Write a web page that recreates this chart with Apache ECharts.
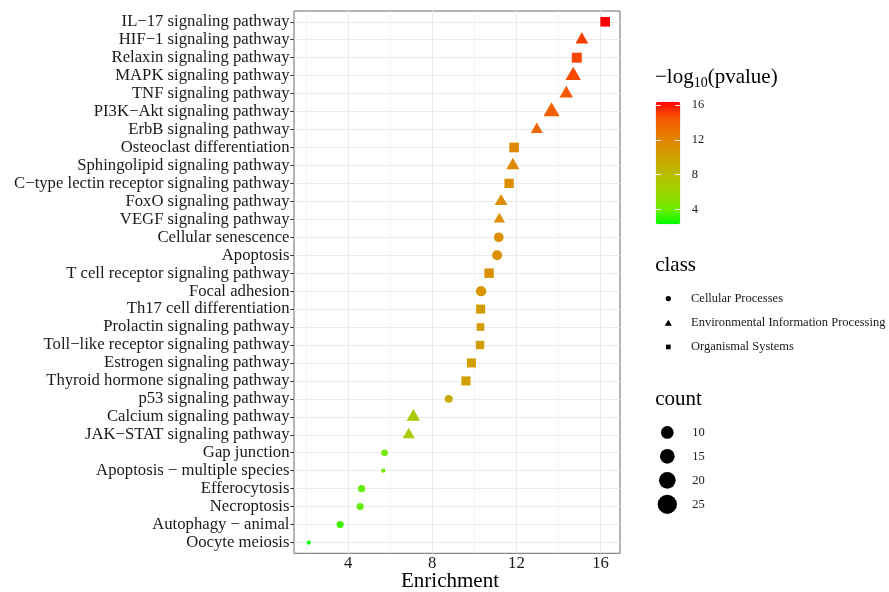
<!DOCTYPE html>
<html><head><meta charset="utf-8">
<script src="https://cdn.jsdelivr.net/npm/echarts@6/dist/echarts.min.js"></script>
<style>html,body{margin:0;padding:0;background:#fff}#c{width:889px;height:592px}</style>
</head><body><div id="c"></div>
<script>
// ---------- data ----------
const pathways = [
  'IL−17 signaling pathway', 'HIF−1 signaling pathway', 'Relaxin signaling pathway',
  'MAPK signaling pathway', 'TNF signaling pathway', 'PI3K−Akt signaling pathway',
  'ErbB signaling pathway', 'Osteoclast differentiation', 'Sphingolipid signaling pathway',
  'C−type lectin receptor signaling pathway', 'FoxO signaling pathway', 'VEGF signaling pathway',
  'Cellular senescence', 'Apoptosis', 'T cell receptor signaling pathway', 'Focal adhesion',
  'Th17 cell differentiation', 'Prolactin signaling pathway', 'Toll−like receptor signaling pathway',
  'Estrogen signaling pathway', 'Thyroid hormone signaling pathway', 'p53 signaling pathway',
  'Calcium signaling pathway', 'JAK−STAT signaling pathway', 'Gap junction',
  'Apoptosis − multiple species', 'Efferocytosis', 'Necroptosis', 'Autophagy − animal', 'Oocyte meiosis'
];
const enrichment = [16.22, 15.11, 14.87, 14.70, 14.37, 13.67, 12.97, 11.89, 11.83, 11.65, 11.27, 11.19,
  11.16, 11.08, 10.70, 10.32, 10.30, 10.29, 10.27, 9.86, 9.60, 8.78, 7.10, 6.88, 5.73, 5.67, 4.64, 4.57, 3.62, 2.13];
const logP = [16.38, 15.1, 14.9, 14.8, 14.4, 14.0, 13.7, 11.7, 11.6, 11.5, 11.4, 11.3,
  11.3, 11.2, 11.2, 10.9, 10.4, 10.4, 10.3, 10.2, 10.1, 9.3, 7.0, 6.9, 4.1, 4.0, 3.8, 3.8, 3.3, 2.27];
const counts = [21, 15, 23, 24, 17, 27, 13, 21, 16, 19, 15, 11,
  16, 17, 20, 19, 18, 12, 15, 18, 18, 10, 17, 13, 7, 5, 8, 8, 8, 5];
// 0 = Cellular Processes, 1 = Environmental Information Processing, 2 = Organismal Systems
const classIdx = [2, 1, 2, 1, 1, 1, 1, 2, 1, 2, 1, 1, 0, 0, 2, 0, 2, 2, 2, 2, 2, 0, 1, 1, 0, 0, 0, 0, 0, 0];
const classNames = ['Cellular Processes', 'Environmental Information Processing', 'Organismal Systems'];
const xTicks = [4, 8, 12, 16];
const xMinor = [2, 6, 10, 14];
const colorTicks = [4, 8, 12, 16];
const countBreaks = ['10', '15', '20', '25'];

// ---------- styling / layout ----------
const FONT = 'Liberation Serif';
const classShapes = ['circle', 'triangle', 'rect'];
const classIcons = ['circle', 'path://M0,-1.5551L1.3468,0.7776L-1.3468,0.7776Z', 'path://M0,0L1,0L1,1L0,1Z'];
const classKeyH = [5.3, 6.2, 4.7];
const classKeyW = [5.3, 7.16, 4.7];
const countKeyD = [12.7, 14.7, 16.7, 19.3];
const gradient = ['#00FF00', '#70EB00', '#98D700', '#B3C200', '#C9AB00', '#DA9200', '#E87700', '#F45300', '#FF0000'];
const D_MIN = 4.3, D_MAX = 12;
const LEG_FS = 12.5;

const n = pathways.length;
const xLo = Math.min(...enrichment), xHi = Math.max(...enrichment);
const xPad = 0.05 * (xHi - xLo);
const pLo = Math.min(...logP), pHi = Math.max(...logP);
const cLo = Math.min(...counts), cHi = Math.max(...counts);
function diam(c) { return D_MIN + (D_MAX - D_MIN) * Math.sqrt((c - cLo) / (cHi - cLo)); }
function symSize(shape, c) {
  const d = diam(c);
  if (shape === 'rect') return d * 0.8862;
  if (shape === 'triangle') return [d * 1.3468, d * 1.1664];
  return d;
}
const idx = pathways.map((_, i) => i);

const series = [];
// background grid lines
series.push({
  type: 'scatter', name: '__grid', data: [], silent: true, z: 1,
  markLine: {
    z: 1, silent: true, symbol: ['none', 'none'], label: { show: false }, animation: false,
    emphasis: { disabled: true },
    data: [
      ...xMinor.map(v => ({ xAxis: v, lineStyle: { color: '#F2F2F2', width: 0.7, type: 'solid' } })),
      ...xTicks.map(v => ({ xAxis: v, lineStyle: { color: '#EBEBEB', width: 1.1, type: 'solid' } })),
      ...idx.map(v => ({ yAxis: v, lineStyle: { color: '#EBEBEB', width: 1.1, type: 'solid' } }))
    ]
  }
});
classNames.forEach((name, k) => {
  const shape = classShapes[k];
  const data = [];
  idx.forEach(i => { if (classIdx[i] === k) data.push([enrichment[i], i, counts[i], logP[i]]); });
  series.push({
    type: 'scatter', name, data, symbol: shape, z: 3,
    symbolSize: v => symSize(shape, v[2]),
    symbolOffset: shape === 'triangle' ? [0, '-16.67%'] : [0, 0],
    itemStyle: { opacity: 1, borderWidth: 0 },
    emphasis: { disabled: true }
  });
});
countBreaks.forEach(b => series.push({ type: 'scatter', name: b, data: [], itemStyle: { color: '#000', opacity: 1 } }));

const legendFont = { fontFamily: FONT, fontSize: LEG_FS, color: '#1a1a1a' };
const legends = [];
const CLASS_CX = 668.3, CLASS_TX = 691, CLASS_Y0 = 298.3, STEP = 24.2;
classNames.forEach((name, k) => {
  const w = 2 * (CLASS_TX - 5 - CLASS_CX), h = classKeyH[k];
  legends.push({
    orient: 'vertical', left: CLASS_CX - classKeyW[k] / 2, top: CLASS_Y0 + k * STEP - Math.max(h, LEG_FS) / 2,
    padding: 0, itemGap: 0, itemWidth: w, itemHeight: h, selectedMode: false, symbolKeepAspect: true,
    textStyle: legendFont,
    data: [{ name, icon: classIcons[k], itemStyle: { color: '#000', opacity: 1 } }]
  });
});
const COUNT_CX = 667.3, COUNT_TX = 692.3, COUNT_Y0 = 432.3, CSTEP = 24;
countBreaks.forEach((b, k) => {
  const w = 2 * (COUNT_TX - 5 - COUNT_CX), h = countKeyD[k];
  legends.push({
    orient: 'vertical', left: COUNT_CX - h / 2, top: COUNT_Y0 + k * CSTEP - Math.max(h, LEG_FS) / 2,
    padding: 0, itemGap: 0, itemWidth: w, itemHeight: h, selectedMode: false, symbolKeepAspect: true,
    textStyle: legendFont,
    data: [{ name: b, icon: 'circle', itemStyle: { color: '#000', opacity: 1 } }]
  });
});

const titleFont = { fontFamily: FONT, fontSize: 21, fontWeight: 'normal', color: '#000' };
const option = {
  animation: false,
  backgroundColor: '#fff',
  title: [
    { text: '{a|−log}{s|10}{a|(pvalue)}', left: 655, top: 65.4, padding: 0,
      textStyle: { ...titleFont, rich: {
        a: { fontFamily: FONT, fontSize: 21, color: '#000', lineHeight: 25, verticalAlign: 'middle' },
        s: { fontFamily: FONT, fontSize: 14, color: '#000', lineHeight: 25, verticalAlign: 'bottom' } } } },
    { text: 'class', left: 655.2, top: 255.1, padding: 0, textStyle: titleFont },
    { text: 'count', left: 655.2, top: 389.1, padding: 0, textStyle: titleFont }
  ],
  grid: [
    { left: 294, top: 11, width: 326, height: 542.3, show: true, borderColor: '#6b6b6b', borderWidth: 1,
      backgroundColor: 'transparent', containLabel: false, outerBoundsMode: 'none' },
    { left: 655.7, top: 101.7, width: 24.6, height: 122.6, show: false, containLabel: false, outerBoundsMode: 'none' }
  ],
  xAxis: [
    { type: 'value', gridIndex: 0, min: xLo - xPad, max: xHi + xPad,
      axisLine: { show: false },
      axisTick: { show: true, length: 3.7, lineStyle: { color: '#333', width: 1 }, customValues: xTicks },
      axisLabel: { customValues: xTicks, fontFamily: FONT, fontSize: 16.7, color: '#1a1a1a', margin: 1.5 },
      splitLine: { show: false },
      name: 'Enrichment', nameLocation: 'middle', nameGap: 17.5, nameMoveOverlap: false,
      nameTextStyle: { fontFamily: FONT, fontSize: 21, color: '#000', padding: [0, 14, 0, 0] } },
    { type: 'value', gridIndex: 1, min: 0, max: 1, show: false }
  ],
  yAxis: [
    { type: 'value', gridIndex: 0, inverse: true, min: -0.6, max: n - 1 + 0.6,
      axisLine: { show: false },
      axisTick: { show: true, length: 3.7, lineStyle: { color: '#333', width: 1 }, customValues: idx },
      axisLabel: { customValues: idx, formatter: v => pathways[Math.round(v)],
        fontFamily: FONT, fontSize: 16.7, color: '#1a1a1a', margin: 4.5 },
      splitLine: { show: false } },
    { type: 'value', gridIndex: 1, position: 'left', min: pLo, max: pHi, z: 10,
      axisLine: { show: false },
      axisTick: { show: true, inside: true, length: 5, lineStyle: { color: '#fff', width: 1 }, customValues: colorTicks },
      axisLabel: { show: false }, splitLine: { show: false } },
    { type: 'value', gridIndex: 1, position: 'right', min: pLo, max: pHi, z: 10,
      axisLine: { show: false },
      axisTick: { show: true, inside: true, length: 5, lineStyle: { color: '#fff', width: 1 }, customValues: colorTicks },
      axisLabel: { show: true, customValues: colorTicks, fontFamily: FONT, fontSize: 12.5, color: '#1a1a1a', margin: 11.4 },
      splitLine: { show: false } }
  ],
  visualMap: {
    type: 'continuous', min: pLo, max: pHi, dimension: 3, seriesIndex: [1, 2, 3],
    inRange: { color: gradient }, orient: 'vertical',
    left: 655.7, top: 101.7, itemWidth: 24.6, itemHeight: 122.6, padding: 0,
    calculable: false, text: null, hoverLink: false
  },
  legend: legends,
  series
};
const chart = echarts.init(document.getElementById('c'));
chart.setOption(option);
</script>
</body></html>
